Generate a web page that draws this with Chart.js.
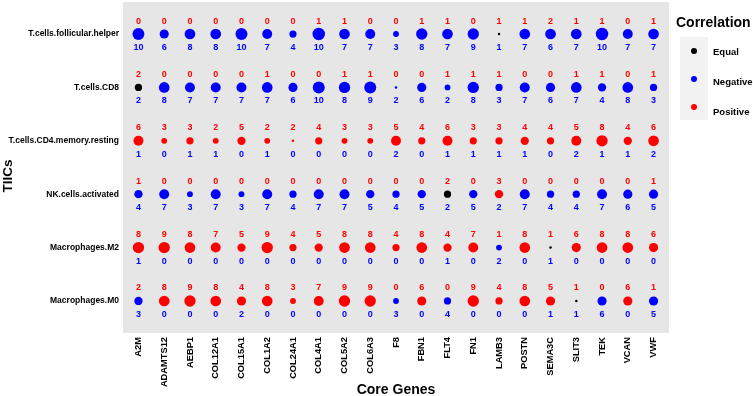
<!DOCTYPE html>
<html><head><meta charset="utf-8">
<script src="https://cdn.jsdelivr.net/npm/chart.js@4"></script>
<style>html,body{margin:0;padding:0;background:#fff}</style>
</head><body>
<canvas id="c" width="753" height="396" style="display:block;width:753px;height:396px"></canvas>
<script>
const genes = ['A2M','ADAMTS12','AEBP1','COL12A1','COL15A1','COL1A2','COL24A1','COL4A1','COL5A2','COL6A3','F8','FBN1','FLT4','FN1','LAMB3','POSTN','SEMA3C','SLIT3','TEK','VCAN','VWF'];
const cells = ['T.cells.follicular.helper','T.cells.CD8','T.cells.CD4.memory.resting','NK.cells.activated','Macrophages.M2','Macrophages.M0'];
// number of positive correlations (red, above each dot), one row per cell type
const positiveCounts = [
  [0,0,0,0,0,0,0,1,1,0,0,1,1,0,1,1,2,1,1,0,1],
  [2,0,0,0,0,1,0,0,1,1,0,0,1,1,1,0,0,1,1,0,1],
  [6,3,3,2,5,2,2,4,3,3,5,4,6,3,3,4,4,5,8,4,6],
  [1,0,0,0,0,0,0,0,0,0,0,0,2,0,3,0,0,0,0,0,1],
  [8,9,8,7,5,9,4,5,8,8,4,8,4,7,1,8,1,6,8,8,6],
  [2,8,9,8,4,8,3,7,9,9,0,6,0,9,4,8,5,1,0,6,1]
];
// number of negative correlations (blue, below each dot)
const negativeCounts = [
  [10,6,8,8,10,7,4,10,7,7,3,8,7,9,1,7,6,7,10,7,7],
  [2,8,7,7,7,7,6,10,8,9,2,6,2,8,3,7,6,7,4,8,3],
  [1,0,1,1,0,1,0,0,0,0,2,0,1,1,1,1,0,2,1,1,2],
  [4,7,3,7,3,7,4,7,7,5,4,5,2,5,2,7,4,4,7,6,5],
  [1,0,0,0,0,0,0,0,0,0,0,0,1,0,2,0,1,0,0,0,0],
  [3,0,0,0,2,0,0,0,0,0,3,0,4,0,0,0,1,1,6,0,5]
];
const legendLabels = ['Equal','Negative','Positive'];
const xTitle = 'Core Genes';
const yTitle = 'TIICs';
const legendTitle = 'Correlation';

const FONT = "'Liberation Sans', Arial, sans-serif";
const classColors = {Equal:'#000000', Negative:'#0000FF', Positive:'#FF0000'};

function classOf(p, n){ return p > n ? 'Positive' : (n > p ? 'Negative' : 'Equal'); }
function radiusFor(total){ // area-style size scale, totals 2..11
  const d = 2.5 + 10 * Math.sqrt(Math.max(0, total - 2) / 9);
  return d / 2;
}

const datasets = legendLabels.map(lab => {
  const pts = [];
  cells.forEach((c, ci) => genes.forEach((g, gi) => {
    const p = positiveCounts[ci][gi], n = negativeCounts[ci][gi];
    if (classOf(p, n) === lab) pts.push({x: gi, y: ci, pos: p, neg: n});
  }));
  return {
    label: lab, data: pts,
    backgroundColor: classColors[lab], borderWidth: 0,
    pointRadius: ctx => ctx.raw ? radiusFor(ctx.raw.pos + ctx.raw.neg) : 3,
    pointHoverRadius: ctx => ctx.raw ? radiusFor(ctx.raw.pos + ctx.raw.neg) : 3
  };
});

const panelBg = {
  id: 'panelBg',
  beforeDraw(chart){
    const {ctx, chartArea: a} = chart;
    ctx.save(); ctx.fillStyle = '#E6E6E6';
    ctx.fillRect(a.left, a.top, a.right - a.left, a.bottom - a.top);
    ctx.restore();
  }
};

const countLabels = {
  id: 'countLabels',
  afterDatasetsDraw(chart){
    const {ctx, scales: {x, y}} = chart;
    ctx.save();
    ctx.font = 'bold 9px ' + FONT;
    ctx.textAlign = 'center'; ctx.textBaseline = 'middle';
    cells.forEach((c, ci) => genes.forEach((g, gi) => {
      const px = x.getPixelForValue(gi), py = y.getPixelForValue(ci);
      ctx.fillStyle = '#FF0000';
      ctx.fillText(String(positiveCounts[ci][gi]), px, py - 13);
      ctx.fillStyle = '#0000FF';
      ctx.fillText(String(negativeCounts[ci][gi]), px, py + 13.5);
    }));
    ctx.restore();
  }
};

const sideLegend = {
  id: 'sideLegend',
  afterDraw(chart){
    const ctx = chart.ctx;
    ctx.save();
    // y axis title
    ctx.fillStyle = '#000';
    ctx.font = 'bold 13.5px ' + FONT;
    ctx.textAlign = 'center'; ctx.textBaseline = 'middle';
    ctx.translate(8, 176); ctx.rotate(-Math.PI / 2);
    ctx.fillText(yTitle, 0, 0);
    ctx.setTransform(1, 0, 0, 1, 0, 0);
    // legend
    ctx.font = 'bold 14px ' + FONT;
    ctx.textAlign = 'left'; ctx.textBaseline = 'middle';
    ctx.fillText(legendTitle, 676, 23);
    ctx.fillStyle = '#F2F2F2';
    ctx.fillRect(680, 37, 28, 83);
    const dotY = [51, 79, 107], txtY = [52, 82, 112];
    legendLabels.forEach((lab, i) => {
      ctx.fillStyle = classColors[lab];
      ctx.beginPath(); ctx.arc(694, dotY[i], 3, 0, Math.PI * 2); ctx.fill();
      ctx.fillStyle = '#000';
      ctx.font = 'bold 9.5px ' + FONT;
      ctx.fillText(lab, 713, txtY[i]);
    });
    ctx.restore();
  }
};

new Chart(document.getElementById('c'), {
  type: 'scatter',
  data: {datasets},
  options: {
    responsive: false, animation: false, devicePixelRatio: 1,
    layout: {autoPadding: false, padding: {left: 0, top: 2, right: 84, bottom: 0}},
    plugins: {legend: {display: false}, tooltip: {enabled: false}},
    scales: {
      x: {
        type: 'linear', min: -0.6, max: 20.6,
        afterBuildTicks: s => { s.ticks = genes.map((g, i) => ({value: i})); },
        afterFit: s => { s.height = 63; s.paddingLeft = 0; s.paddingRight = 0; },
        grid: {display: false, drawTicks: false}, border: {display: false},
        ticks: {autoSkip: false, minRotation: 90, maxRotation: 90, padding: 4, color: '#000',
          font: {family: FONT, size: 9.3, weight: 'bold'}, callback: v => genes[v] ?? ''},
        title: {display: true, text: xTitle, color: '#000', padding: {top: 0, bottom: 0},
          font: {family: FONT, size: 14, weight: 'bold', lineHeight: 0.8}}
      },
      y: {
        type: 'linear', min: -0.6, max: 5.6, reverse: true,
        afterBuildTicks: s => { s.ticks = cells.map((c, i) => ({value: i})); },
        afterFit: s => { s.width = 123; s.paddingTop = 0; s.paddingBottom = 0; },
        grid: {display: false, drawTicks: false}, border: {display: false},
        ticks: {autoSkip: false, padding: 4, color: '#000',
          font: {family: FONT, size: 8.5, weight: 'bold'}, callback: v => cells[v] ?? ''}
      }
    }
  },
  plugins: [panelBg, countLabels, sideLegend]
});
</script>
</body></html>
